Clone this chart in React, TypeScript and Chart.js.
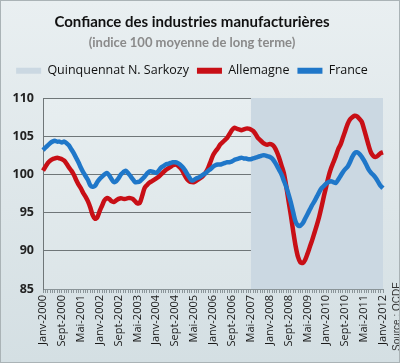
import React, { useEffect, useRef } from "react";
import { Chart, registerables } from "chart.js";

Chart.register(...registerables);

const monthNames = ["Janv", "Févr", "Mars", "Avr", "Mai", "Juin", "Juil", "Août", "Sept", "Oct", "Nov", "Déc"];
const startYear = 2000;
const monthCount = 145;
const categories: string[] = Array.from({ length: monthCount }, (_, i) => `${monthNames[i % 12]}-${startYear + Math.floor(i / 12)}`);
const labelEvery = 8;

const allemagne = [
  100.5, 101.0, 101.5, 101.8, 102.0, 102.1, 102.2, 102.1, 102.0, 101.8, 101.4, 100.9,
  100.5, 100.0, 99.3, 98.7, 98.2, 97.6, 97.1, 96.5, 95.7, 94.7, 94.2, 94.4,
  95.2, 95.9, 96.6, 96.9, 96.8, 96.5, 96.4, 96.6, 96.8, 96.9, 96.8, 96.8,
  96.9, 96.9, 96.8, 96.5, 96.2, 96.3, 97.2, 98.2, 98.6, 98.9, 99.1, 99.3,
  99.5, 99.7, 100.0, 100.3, 100.6, 100.8, 101.0, 101.2, 101.3, 101.2, 100.9, 100.5,
  99.9, 99.4, 99.1, 99.0, 99.0, 99.2, 99.4, 99.6, 99.9, 100.3, 100.9, 101.7,
  102.5, 103.0, 103.4, 103.9, 104.2, 104.5, 104.8, 105.3, 105.8, 106.1, 106.0, 105.9,
  105.8, 105.9, 106.0, 106.0, 105.9, 105.7, 105.3, 104.8, 104.5, 104.2, 104.0, 103.9,
  104.0, 103.9, 103.6, 103.0, 102.2, 101.2, 100.2, 98.5, 96.5, 94.6, 92.5, 90.6,
  89.2, 88.5, 88.4, 88.8, 89.6, 90.5, 91.4, 92.4, 93.4, 94.5, 95.8, 97.2,
  98.5, 99.8, 100.8, 101.6, 102.4, 103.3, 103.9, 104.8, 105.7, 106.6, 107.2, 107.5,
  107.7, 107.6, 107.3, 106.9, 105.9, 104.8, 103.7, 102.8, 102.4, 102.3, 102.5, 102.8,
  102.9,
];

const france = [
  103.2, 103.5, 103.8, 104.1, 104.3, 104.4, 104.3, 104.3, 104.2, 104.3, 104.1, 103.8,
  103.3, 102.8, 102.2, 101.6, 100.9, 100.3, 99.8, 99.3, 98.6, 98.4, 98.5, 99.0,
  99.4, 99.7, 100.0, 100.2, 99.9, 99.4, 99.0, 99.1, 99.5, 100.0, 100.3, 100.5,
  100.2, 99.8, 99.4, 99.0, 99.0, 99.1, 99.4, 99.7, 100.1, 100.4, 100.4, 100.3,
  100.2, 100.5, 100.9, 101.1, 101.3, 101.4, 101.5, 101.6, 101.6, 101.5, 101.3, 101.0,
  100.6, 100.1, 99.6, 99.2, 99.3, 99.5, 99.6, 99.8, 100.0, 100.2, 100.5, 100.7,
  101.0, 101.2, 101.3, 101.3, 101.4, 101.5, 101.6, 101.6, 101.7, 101.9, 102.0, 102.1,
  102.2, 102.1, 102.1, 102.0, 102.0, 102.1, 102.2, 102.3, 102.4, 102.5, 102.5, 102.4,
  102.3, 102.1, 101.7, 101.2, 100.6, 100.0, 99.2, 98.4, 97.4, 96.3, 95.0, 93.8,
  93.3, 93.3, 93.6, 94.2, 94.8, 95.4, 96.0, 96.5, 97.1, 97.7, 98.2, 98.5,
  98.8, 99.0, 99.1, 99.0, 98.9, 99.3, 99.8, 100.3, 100.7, 101.0, 101.6, 102.3,
  102.8, 102.9, 102.7, 102.3, 101.8, 101.2, 100.6, 100.2, 99.9, 99.5, 99.0, 98.5,
  98.2,
];

const sarkozyStart = "Mai-2007";
const yMin = 85;
const yMax = 110;
const yStep = 5;

const titleText = "Confiance des industries manufacturières";
const subtitleText = "(indice 100 moyenne de long terme)";
const sourceText = "Source : OCDE";

const RED = "#c80f16";
const BLUE = "#1f77c9";
const SHADE = "#cbd8e2";

export default function App() {
  const ref = useRef<HTMLCanvasElement | null>(null);

  useEffect(() => {
    if (!ref.current) return;
    const startIdx = categories.indexOf(sarkozyStart);
    const sarkozy = categories.map((_, i) => (i >= startIdx ? yMax : null));

    const bgPlugin = {
      id: "bgPlugin",
      beforeUpdate(chart: any) {
        const lg = chart.legend;
        if (lg && !lg.__patched) {
          const orig = lg.fit;
          lg.fit = function (this: any) {
            orig.call(this);
            this.height += 11;
          };
          lg.__patched = true;
        }
      },
      beforeDraw(chart: any) {
        const { ctx, chartArea } = chart;
        const g = ctx.createLinearGradient(0, chartArea.top, 0, chartArea.bottom);
        g.addColorStop(0, "#e7eef0");
        g.addColorStop(1, "#dce5e8");
        ctx.save();
        ctx.fillStyle = g;
        ctx.fillRect(chartArea.left, chartArea.top, chartArea.right - chartArea.left, chartArea.bottom - chartArea.top);
        ctx.restore();
      },
      afterDraw(chart: any) {
        const { ctx } = chart;
        ctx.save();
        ctx.translate(396, 350);
        ctx.rotate(-Math.PI / 2);
        ctx.font = "10px 'Liberation Sans', sans-serif";
        ctx.fillStyle = "#333";
        ctx.textAlign = "left";
        ctx.textBaseline = "middle";
        ctx.fillText(sourceText, 0, 0);
        ctx.restore();
      },
    };

    const chart = new Chart(ref.current, {
      type: "line",
      data: {
        labels: categories,
        datasets: [
          {
            label: "Quinquennat N. Sarkozy",
            data: sarkozy,
            fill: "start",
            backgroundColor: SHADE,
            borderColor: SHADE,
            borderWidth: 0,
            pointRadius: 0,
            order: 3,
          },
          {
            label: "Allemagne",
            data: allemagne,
            borderColor: RED,
            backgroundColor: RED,
            borderWidth: 4.5,
            pointRadius: 0,
            tension: 0.3,
            order: 2,
          },
          {
            label: "France",
            data: france,
            borderColor: BLUE,
            backgroundColor: BLUE,
            borderWidth: 4.5,
            pointRadius: 0,
            tension: 0.3,
            order: 1,
          },
        ],
      },
      options: {
        responsive: false,
        animation: false,
        layout: { padding: { left: 0, right: 16, top: 0, bottom: 2 } },
        plugins: {
          title: {
            display: true,
            text: titleText,
            color: "#111",
            font: { family: "Lato", size: 15, weight: "bold" },
            padding: { top: 12, bottom: 4 },
          },
          subtitle: {
            display: true,
            text: subtitleText,
            color: "#8a8a8a",
            font: { family: "Lato", size: 13, weight: "bold" },
            padding: { top: 0, bottom: 6 },
          },
          legend: {
            display: true,
            labels: {
              boxWidth: 25,
              boxHeight: 6,
              padding: 8,
              color: "#111",
              font: { family: "'Open Sans'", size: 12.5 },
              generateLabels(chart: any) {
                return chart.data.datasets.map((ds: any, i: number) => ({
                  text: ds.label,
                  fillStyle: ds.backgroundColor,
                  strokeStyle: ds.backgroundColor,
                  lineWidth: 0,
                  hidden: false,
                  datasetIndex: i,
                  fontColor: "#111",
                }));
              },
            },
          },
          tooltip: { enabled: false },
        },
        scales: {
          x: {
            type: "category",
            offset: false,
            afterFit(scale: any) {
              scale.height = 71;
            },
            grid: {
              drawOnChartArea: false,
              drawTicks: true,
              tickLength: 4,
              color: "#8a9498",
            },
            border: { color: "#8a9498" },
            ticks: {
              autoSkip: false,
              minRotation: 90,
              maxRotation: 90,
              padding: 2,
              color: "#1a1a1a",
              font: { family: "'Open Sans'", size: 11 },
              callback: (_v: any, i: number) => (i % labelEvery === 0 ? categories[i] : ""),
            },
          },
          y: {
            min: yMin,
            max: yMax,
            afterFit(scale: any) {
              scale.width = 42;
            },
            grid: {
              color: "#6f7678",
              lineWidth: 1,
              drawTicks: false,
            },
            border: { color: "#6f7678" },
            ticks: {
              stepSize: yStep,
              padding: 9,
              color: "#222",
              font: { family: "'Open Sans'", size: 12.5, weight: "bold" },
            },
          },
        },
      },
      plugins: [bgPlugin],
    } as any);

    return () => chart.destroy();
  }, []);

  return (
    <div
      style={{
        position: "absolute",
        left: 0,
        top: 0,
        width: 400,
        height: 363,
        boxSizing: "border-box",
        border: "1px solid #aab3b6",
        background: "linear-gradient(#e9eff1, #d4dfe3)",
      }}
    >
      <canvas ref={ref} width={398} height={361} style={{ display: "block" }} />
    </div>
  );
}
